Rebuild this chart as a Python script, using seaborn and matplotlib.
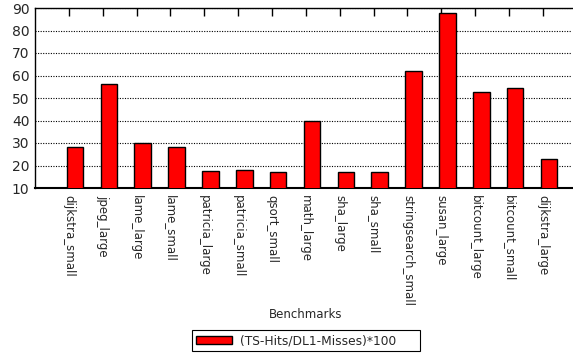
import numpy as np
import pandas as pd
import matplotlib
matplotlib.use("Agg")
import matplotlib.pyplot as plt
import seaborn as sns

benchmarks = ["dijkstra_small", "jpeg_large", "lame_large", "lame_small",
              "patricia_large", "patricia_small", "qsort_small", "math_large",
              "sha_large", "sha_small", "stringsearch_small", "susan_large",
              "bitcount_large", "bitcount_small", "dijkstra_large"]
ratio = [28.1, 56.2, 29.9, 28.3, 17.5, 17.9, 17.2, 39.6,
         17.2, 16.9, 61.9, 88.0, 52.7, 54.6, 22.8]
series_name = "(TS-Hits/DL1-Misses)*100"
y_ticks = [10, 20, 30, 40, 50, 60, 70, 80, 90]

df = pd.DataFrame({"Benchmark": benchmarks, "Value": ratio, "Series": series_name})

sns.set_theme(style="white")
plt.rcParams["font.family"] = ["DejaVu Sans"]

W, H = 573, 358
fig = plt.figure(figsize=(W / 100, H / 100), dpi=100)
ax = fig.add_axes([35 / W, 1 - 188 / H, (572 - 35) / W, (188 - 8) / H])

sns.barplot(data=df, x="Benchmark", y="Value", hue="Series", palette=["#ff0000"],
            width=0.49, edgecolor="black", linewidth=1.0, saturation=1,
            ax=ax, legend=True, zorder=3)

ax.set_ylim(10, 90)
ax.set_xlim(-1.18, 14.68)
ax.set_yticks(y_ticks)
ax.set_yticklabels([str(v) for v in y_ticks], fontsize=10)
ax.yaxis.grid(True, color="black", linestyle=(0, (1, 1.3)), linewidth=0.8, zorder=0)
ax.set_axisbelow(True)

# tick marks sit just left of each bar centre
pos = np.arange(len(benchmarks)) - 0.18
ax.set_xticks(pos)
ax.set_xticklabels(benchmarks, rotation=-90, fontsize=8.5, va="top", ha="center")

ax.tick_params(axis="x", direction="in", length=6, width=1, color="black",
               top=True, bottom=True, pad=5)
ax.tick_params(axis="y", direction="in", length=0, pad=4)

for side in ["left", "top", "bottom"]:
    ax.spines[side].set_color("black")
    ax.spines[side].set_linewidth(1.0)
ax.spines["bottom"].set_linewidth(1.5)
ax.spines["right"].set_visible(False)

ax.set_xlabel("")
ax.set_ylabel("")
fig.text(306 / W, 1 - 315 / H, "Benchmarks", ha="center", va="center", fontsize=8.5)

ax.legend(loc="center", mode="expand",
          bbox_to_anchor=(192 / W, 1 - 349 / H, (420 - 192) / W, 17 / H),
          bbox_transform=fig.transFigure, frameon=True, fancybox=False,
          edgecolor="black", fontsize=8.8, handlelength=3.0, handleheight=0.6,
          borderpad=0.3, borderaxespad=0, handletextpad=0.6, framealpha=1)
ax.get_legend().get_frame().set_linewidth(0.8)

fig.savefig("out.png", dpi=100)
